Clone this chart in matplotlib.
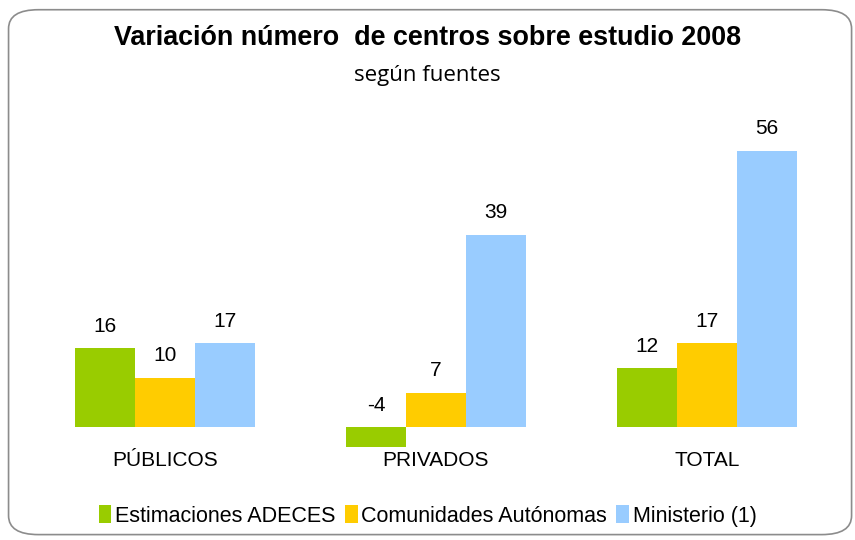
import numpy as np
import matplotlib.pyplot as plt
from matplotlib.patches import FancyBboxPatch

# data
categories = ["PÚBLICOS", "PRIVADOS", "TOTAL"]
series_names = ["Estimaciones ADECES", "Comunidades Autónomas", "Ministerio (1)"]
adeces = [16, -4, 12]
comunidades = [10, 7, 17]
ministerio = [17, 39, 56]
colors = ["#99CC00", "#FFCC00", "#99CCFF"]

plt.rcParams['font.family'] = ['Liberation Sans', 'DejaVu Sans']

fig = plt.figure(figsize=(8.55, 5.40), dpi=100)

# rounded frame around the chart (behind the axes)
frame = FancyBboxPatch((0.010, 0.010), 0.986, 0.972,
                       boxstyle="round,pad=0,rounding_size=0.035",
                       transform=fig.transFigure, facecolor="white",
                       edgecolor="#8c8c8c", linewidth=1.2, zorder=-5)
fig.patches.append(frame)

ax = fig.add_axes([29.5 / 855, 1 - 452 / 540, 813 / 855, 321 / 540])
ax.set_facecolor("none")
ax.set_zorder(2)

x = np.arange(len(categories))
width = 0.221
all_series = [adeces, comunidades, ministerio]

for i, (vals, col, name) in enumerate(zip(all_series, colors, series_names)):
    pos = x + (i - 1) * width
    ax.bar(pos, vals, width, color=col, label=name, zorder=2)
    for p, v in zip(pos, vals):
        ax.annotate(str(v), (p, max(v, 0)), xytext=(0, 9), textcoords="offset points",
                    ha="center", va="bottom", fontsize=15)

ax.set_xlim(-0.5, 2.5)
ax.set_ylim(-5, 60)
for s in ax.spines.values():
    s.set_visible(False)
ax.set_yticks([])
ax.set_xticks(x)
ax.set_xticklabels(categories, fontsize=15)
ax.tick_params(axis="x", length=0, pad=-1)

fig.text(0.5, 1 - 38 / 540, "Variación número  de centros sobre estudio 2008",
         ha="center", va="center", fontsize=19.4, fontweight="bold")
fig.text(0.5, 1 - 75 / 540, "según fuentes", ha="center", va="center",
         fontsize=16, family=["Open Sans", "DejaVu Sans"])

fig.legend(loc="center", bbox_to_anchor=(0.5, 1 - 516 / 540), ncol=3, frameon=False,
           fontsize=15.5, handlelength=0.6, handleheight=0.9, handletextpad=0.15,
           columnspacing=0.45)

plt.savefig("out.png", dpi=100)
